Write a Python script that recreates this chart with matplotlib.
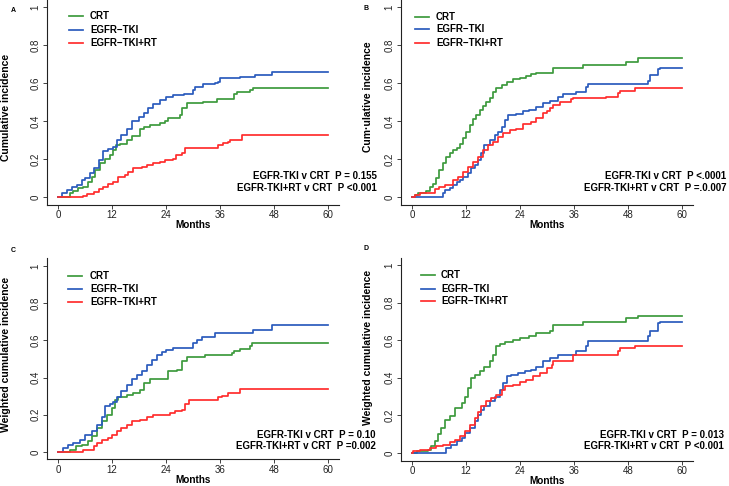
import matplotlib
matplotlib.use("Agg")
import matplotlib.pyplot as plt
from matplotlib.lines import Line2D

plt.rcParams['font.family'] = ['Liberation Sans', 'DejaVu Sans']

W, H = 729, 486

groups = ['CRT', 'EGFR\u2212TKI', 'EGFR\u2212TKI+RT']
colors = ['#3d9a3d', '#2a5bbd', '#ff2d2d']

x_ticks = [0, 12, 24, 36, 48, 60]
y_ticks = [0, 0.2, 0.4, 0.6, 0.8, 1]
y_tick_labels = ['0', '0.2', '0.4', '0.6', '0.8', '1']

# panel A - cumulative incidence
a_crt_t = [0, 2.7, 3.4, 4.5, 5.6, 6.7, 7.5, 8.2, 9.3, 10.4, 11.6, 12.3, 12.8, 13.8, 15.3, 16.4, 18.2,
           19.0, 20.4, 22.7, 23.8, 24.5, 27.1, 27.5, 28.6, 32.3, 35.3, 39.0, 39.7, 40.4, 42.7, 43.4, 60]
a_crt_y = [0, 0.02, 0.03, 0.045, 0.055, 0.08, 0.107, 0.14, 0.177, 0.2, 0.22, 0.247, 0.274, 0.28, 0.3, 0.32,
           0.36, 0.37, 0.38, 0.388, 0.4, 0.414, 0.43, 0.467, 0.493, 0.5, 0.514, 0.54, 0.55, 0.554, 0.563,
           0.572, 0.572]
a_tki_t = [0, 0.9, 1.9, 3.0, 4.2, 5.3, 6.0, 7.1, 7.9, 9.0, 10.1, 11.2, 12.3, 13.0, 14.1, 15.3, 16.4, 17.9,
           19.0, 20.1, 21.2, 22.7, 24.1, 25.6, 27.9, 30.1, 30.4, 32.3, 34.9, 35.6, 36.0, 40.4, 43.8, 47.5, 60]
a_tki_y = [0, 0.023, 0.037, 0.05, 0.063, 0.09, 0.1, 0.125, 0.15, 0.195, 0.24, 0.25, 0.265, 0.3, 0.326, 0.36,
           0.4, 0.42, 0.44, 0.467, 0.49, 0.51, 0.525, 0.537, 0.54, 0.563, 0.58, 0.595, 0.6, 0.607, 0.625,
           0.633, 0.642, 0.66, 0.66]
a_rt_t = [0, 5.6, 6.4, 7.9, 9.0, 10.1, 11.2, 12.3, 13.4, 14.9, 15.6, 16.7, 18.6, 19.7, 21.2, 22.7, 23.8,
          25.6, 26.3, 27.5, 28.2, 29.0, 35.6, 36.7, 37.8, 38.2, 40.8, 60]
a_rt_y = [0, 0.007, 0.014, 0.028, 0.04, 0.054, 0.067, 0.08, 0.107, 0.116, 0.133, 0.15, 0.16, 0.168, 0.177,
          0.186, 0.195, 0.2, 0.22, 0.23, 0.256, 0.26, 0.274, 0.282, 0.29, 0.3, 0.326, 0.326]

# panel B - cumulative incidence
b_crt_t = [0, 0.6, 1.3, 3.2, 3.9, 4.7, 5.4, 6.1, 6.9, 7.6, 8.4, 9.1, 9.9, 10.6, 11.3, 12.1, 12.8, 13.6,
           14.3, 15.0, 15.8, 16.5, 17.3, 18.0, 18.7, 19.9, 21.0, 22.4, 23.9, 25.4, 26.5, 27.6, 31.3, 38.0,
           47.6, 50.2, 60]
b_crt_y = [0, 0.01, 0.02, 0.03, 0.05, 0.07, 0.1, 0.14, 0.18, 0.21, 0.23, 0.245, 0.26, 0.28, 0.31, 0.34,
           0.38, 0.41, 0.43, 0.46, 0.48, 0.5, 0.52, 0.55, 0.575, 0.59, 0.605, 0.62, 0.625, 0.635, 0.645,
           0.65, 0.677, 0.695, 0.709, 0.733, 0.733]
b_tki_t = [0, 6.9, 7.3, 8.4, 9.1, 9.9, 10.6, 11.3, 12.4, 13.2, 13.9, 14.7, 15.4, 16.1, 17.3, 18.4, 19.1,
           19.9, 20.6, 21.3, 23.2, 24.7, 26.1, 27.6, 29.1, 30.6, 32.4, 33.6, 36.5, 38.7, 39.1, 52.4, 52.8,
           54.7, 55.0, 60]
b_tki_y = [0, 0.02, 0.037, 0.045, 0.063, 0.08, 0.09, 0.107, 0.125, 0.15, 0.168, 0.195, 0.23, 0.274, 0.3,
           0.326, 0.344, 0.37, 0.405, 0.43, 0.437, 0.45, 0.458, 0.475, 0.493, 0.507, 0.525, 0.54, 0.554,
           0.58, 0.593, 0.612, 0.642, 0.672, 0.677, 0.677]
b_rt_t = [0, 0.6, 1.7, 5.0, 6.1, 7.3, 9.1, 10.2, 11.3, 12.4, 13.6, 14.7, 15.8, 16.9, 18.0, 19.1, 20.2,
          21.7, 23.2, 24.7, 26.5, 27.6, 29.1, 29.9, 30.6, 31.3, 32.8, 35.4, 35.8, 43.2, 45.8, 46.2, 49.5, 60]
b_rt_y = [0, 0.01, 0.023, 0.04, 0.054, 0.063, 0.09, 0.107, 0.133, 0.16, 0.186, 0.21, 0.247, 0.274, 0.29,
          0.314, 0.335, 0.35, 0.36, 0.384, 0.396, 0.414, 0.44, 0.45, 0.47, 0.484, 0.5, 0.514, 0.52, 0.528,
          0.549, 0.56, 0.575, 0.575]

# panel C - weighted cumulative incidence
c_crt_t = [0, 2.7, 4.1, 5.3, 6.7, 7.5, 8.6, 9.7, 10.8, 11.9, 12.7, 13.4, 15.3, 16.7, 18.2, 19.0, 20.4,
           23.4, 24.5, 26.4, 27.5, 28.6, 32.7, 38.6, 39.0, 40.4, 42.7, 43.0, 60]
c_crt_y = [0, 0.013, 0.03, 0.04, 0.057, 0.084, 0.13, 0.165, 0.2, 0.237, 0.28, 0.294, 0.305, 0.317, 0.335,
           0.37, 0.39, 0.394, 0.434, 0.443, 0.487, 0.51, 0.523, 0.532, 0.545, 0.556, 0.568, 0.586, 0.586]
c_tki_t = [0, 1.2, 2.3, 3.4, 4.9, 6.0, 7.5, 8.6, 9.7, 10.4, 11.6, 12.3, 13.0, 14.1, 15.3, 16.4, 17.5,
           18.6, 19.7, 20.8, 21.9, 23.0, 24.1, 25.6, 30.1, 30.8, 31.9, 34.9, 43.4, 47.5, 60]
c_tki_y = [0, 0.02, 0.04, 0.05, 0.066, 0.09, 0.11, 0.147, 0.19, 0.245, 0.258, 0.27, 0.294, 0.326, 0.362,
           0.39, 0.416, 0.434, 0.47, 0.496, 0.52, 0.54, 0.55, 0.559, 0.586, 0.604, 0.616, 0.64, 0.658,
           0.681, 0.681]
c_rt_t = [0, 5.6, 7.9, 8.6, 9.7, 11.2, 11.9, 13.0, 14.1, 15.3, 16.4, 18.2, 19.7, 21.2, 22.7, 24.9, 26.0,
          27.5, 28.2, 29.0, 35.6, 36.4, 37.8, 40.4, 60]
c_rt_y = [0, 0.01, 0.03, 0.05, 0.066, 0.075, 0.093, 0.11, 0.13, 0.147, 0.165, 0.174, 0.186, 0.197, 0.2,
          0.21, 0.219, 0.228, 0.258, 0.281, 0.294, 0.303, 0.317, 0.34, 0.34]

# panel D - weighted cumulative incidence
d_crt_t = [0, 1.0, 3.6, 4.3, 5.0, 5.8, 6.5, 7.3, 8.4, 9.5, 11.0, 11.7, 12.4, 13.2, 13.9, 15.0, 16.1,
           17.3, 18.0, 18.7, 19.5, 20.6, 22.4, 23.9, 26.1, 27.6, 30.6, 31.3, 38.0, 47.6, 50.2, 60]
d_crt_y = [0, 0.012, 0.018, 0.035, 0.062, 0.1, 0.133, 0.177, 0.195, 0.24, 0.266, 0.3, 0.346, 0.4, 0.417,
           0.434, 0.46, 0.488, 0.523, 0.567, 0.58, 0.59, 0.603, 0.612, 0.62, 0.638, 0.65, 0.679, 0.697,
           0.718, 0.73, 0.73]
d_tki_t = [0, 7.6, 8.7, 9.9, 11.0, 11.7, 12.8, 13.9, 14.7, 15.4, 16.1, 17.3, 18.4, 19.5, 20.2, 21.0, 22.1,
           23.6, 25.0, 26.5, 27.6, 29.1, 30.6, 32.4, 36.5, 38.7, 39.1, 52.4, 52.8, 54.7, 55.0, 60]
d_tki_y = [0, 0.027, 0.044, 0.062, 0.08, 0.106, 0.133, 0.168, 0.204, 0.23, 0.248, 0.275, 0.3, 0.337,
           0.372, 0.408, 0.417, 0.425, 0.438, 0.443, 0.46, 0.488, 0.505, 0.523, 0.54, 0.567, 0.597, 0.62,
           0.647, 0.69, 0.697, 0.697]
d_rt_t = [0, 0.2, 1.7, 3.9, 5.4, 6.9, 8.4, 9.5, 10.6, 11.7, 12.8, 13.9, 14.7, 15.4, 16.5, 17.6, 18.7,
          19.9, 20.6, 22.4, 23.9, 25.4, 26.9, 28.4, 29.9, 31.0, 31.3, 35.8, 45.8, 46.2, 49.5, 60]
d_rt_y = [0, 0.009, 0.018, 0.027, 0.035, 0.044, 0.058, 0.07, 0.089, 0.115, 0.15, 0.186, 0.22, 0.248, 0.275,
          0.293, 0.31, 0.337, 0.355, 0.363, 0.38, 0.39, 0.408, 0.425, 0.452, 0.47, 0.488, 0.523, 0.54,
          0.558, 0.571, 0.571]

p_text = {
    'A': ['EGFR-TKI v CRT  P = 0.155', 'EGFR-TKI+RT v CRT  P <0.001'],
    'B': ['EGFR-TKI v CRT  P <.0001', 'EGFR-TKI+RT v CRT  P =.0.007'],
    'C': ['EGFR-TKI v CRT  P = 0.10', 'EGFR-TKI+RT v CRT  P =0.002'],
    'D': ['EGFR-TKI v CRT  P = 0.013', 'EGFR-TKI+RT v CRT  P <0.001'],
}
y_titles = {
    'A': 'Cumulative incidence',
    'B': 'Cum\u00b7ulative incidence',
    'C': 'Weighted cumulative incidence',
    'D': 'Weighted cumulative incidence',
}

# layout in pixels (top-left origin): axes box, letter, ylabel centre, legend, p text
layout = {
    'A': dict(box=(47.2, -0.6, 291.6, 205.2), letter=(13, 10), ylab=(6, 107), leg=(69, 90, [16, 30, 43]),
              p=(377, [176, 188])),
    'B': dict(box=(401.2, -0.6, 291.6, 205.2), letter=(366, 8), ylab=(368, 97), leg=(415, 436, [17, 29, 43]),
              p=(726, [176, 188])),
    'C': dict(box=(47.2, 258.5, 291.6, 200.9), letter=(13, 250), ylab=(6, 354), leg=(68, 90, [276, 289, 302]),
              p=(376, [435, 445.5])),
    'D': dict(box=(401.2, 257.5, 291.6, 203.0), letter=(366, 248), ylab=(368, 347), leg=(421, 441, [275, 289, 301]),
              p=(724, [435, 445.5])),
}


def fx(x):
    return x / W


def fy(y):
    return 1 - y / H


def draw_panel(fig, key, series):
    lay = layout[key]
    x0, y0, w, h = lay['box']
    ax = fig.add_axes([fx(x0), fy(y0 + h), w / W, h / H])
    for (t, y), col in zip(series, colors):
        ax.plot(t, y, drawstyle='steps-post', color=col, linewidth=1.25)
    ax.set_xlim(-2.4, 62.4)
    ax.set_ylim(-0.04, 1.04)
    ax.set_xticks(x_ticks)
    ax.set_yticks(y_ticks, y_tick_labels)
    for side in ['top', 'right']:
        ax.spines[side].set_visible(False)
    for side in ['left', 'bottom']:
        ax.spines[side].set_linewidth(0.8)
        ax.spines[side].set_color('#222222')
    ax.tick_params(direction='out', length=3, width=0.6, labelsize=7, colors='#222222')
    ax.tick_params(axis='x', pad=1)
    ax.tick_params(axis='y', pad=2, labelrotation=90)
    for lbl in ax.get_yticklabels():
        lbl.set_va('center')
    ax.set_xlabel('Months', fontsize=7.2, fontweight='bold', labelpad=0)

    # y title and panel letter
    fig.text(fx(lay['ylab'][0]), fy(lay['ylab'][1]), y_titles[key], rotation=90, ha='center', va='center',
             fontsize=7.5, fontweight='bold')
    fig.text(fx(lay['letter'][0]), fy(lay['letter'][1]), key, ha='center', va='center', fontsize=5,
             fontweight='bold')

    # legend drawn by hand
    lx, tx, rows = lay['leg']
    for name, col, ry in zip(groups, colors, rows):
        fig.add_artist(Line2D([fx(lx), fx(lx + 14)], [fy(ry), fy(ry)], color=col, linewidth=1.25,
                              transform=fig.transFigure))
        fig.text(fx(tx), fy(ry), name, ha='left', va='center', fontsize=7, fontweight='bold')

    # p values
    px, prow = lay['p']
    for line, ry in zip(p_text[key], prow):
        fig.text(fx(px), fy(ry), line, ha='right', va='center', fontsize=7, fontweight='bold')
    return ax


if __name__ == "__main__":
    fig = plt.figure(figsize=(W / 100, H / 100), dpi=100)
    draw_panel(fig, 'A', [(a_crt_t, a_crt_y), (a_tki_t, a_tki_y), (a_rt_t, a_rt_y)])
    draw_panel(fig, 'B', [(b_crt_t, b_crt_y), (b_tki_t, b_tki_y), (b_rt_t, b_rt_y)])
    draw_panel(fig, 'C', [(c_crt_t, c_crt_y), (c_tki_t, c_tki_y), (c_rt_t, c_rt_y)])
    draw_panel(fig, 'D', [(d_crt_t, d_crt_y), (d_tki_t, d_tki_y), (d_rt_t, d_rt_y)])
    fig.savefig('out.png', dpi=100)
